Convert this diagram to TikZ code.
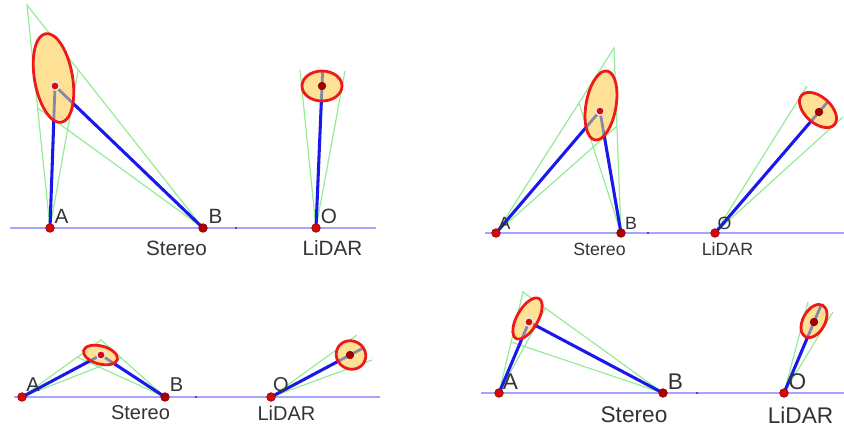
\documentclass[tikz,border=0pt]{standalone}
\usepackage{fontspec}
\setmainfont{Liberation Sans}
\usetikzlibrary{calc}
\definecolor{baseblue}{RGB}{165,165,255}
\definecolor{rayblue}{RGB}{25,25,235}
\definecolor{conegreen}{RGB}{150,235,150}
\definecolor{errfill}{RGB}{255,225,150}
\definecolor{errred}{RGB}{240,25,25}
\definecolor{seggrey}{RGB}{135,135,170}
\definecolor{dotred}{RGB}{215,10,10}
\definecolor{dotdark}{RGB}{150,0,0}

\begin{document}
\begin{tikzpicture}[x=0.75pt,y=-0.75pt,
    base/.style={baseblue,line width=1.2pt},
    cone/.style={conegreen,line width=0.9pt},
    ray/.style={rayblue,line width=2.3pt,line join=round},
    seg/.style={seggrey,line width=2.1pt},
    errarea/.style={fill=errfill},
    errrim/.style={draw=errred,line width=2.1pt},
    cam/.style={fill=dotred,draw=dotdark,line width=0.5pt},
    camb/.style={fill=dotdark!80!red,draw=dotdark,line width=0.5pt},
    tgt/.style={fill=dotred,draw=white!85!gray,line width=1pt},
    ltgt/.style={fill=dotdark!90!red,draw=dotdark,line width=0.5pt},
    lbl/.style={text=black!80,inner sep=0pt}]
\useasboundingbox (0,0) rectangle (844,430);
% cameras and lidar
\coordinate (A1) at (50,228);  \coordinate (B1) at (203,228); \coordinate (O1) at (316,228);
\coordinate (A2) at (496,233); \coordinate (B2) at (621,233); \coordinate (O2) at (715,233);
\coordinate (A3) at (22,397);  \coordinate (B3) at (165,397); \coordinate (O3) at (271,397);
\coordinate (A4) at (499,393); \coordinate (B4) at (663,393); \coordinate (O4) at (784,393);
% targets
\coordinate (T1) at (55,86);   \coordinate (U1) at (322,86);
\coordinate (T2) at (600,111); \coordinate (U2) at (819,112);
\coordinate (T3) at (101,355); \coordinate (U3) at (350,355);
\coordinate (T4) at (529,322); \coordinate (U4) at (814,322);
% ellipse centres
\coordinate (E1) at (53.5,78);    \coordinate (F1) at (322,86);
\coordinate (E2) at (601,105.5);  \coordinate (F2) at (818,110);
\coordinate (E3) at (100.5,355);  \coordinate (F3) at (351,355);
\coordinate (E4) at (527.5,318.5);\coordinate (F4) at (814,321);
% baselines
\coordinate (L1) at (10,228);  \coordinate (R1) at (376,228); \coordinate (K1) at (236,228);
\coordinate (L2) at (485,233); \coordinate (R2) at (844,233); \coordinate (K2) at (648,233);
\coordinate (L3) at (14,397);  \coordinate (R3) at (380,397); \coordinate (K3) at (196,397);
\coordinate (L4) at (481,393); \coordinate (R4) at (844,393); \coordinate (K4) at (697,393);
% stereo cones
\coordinate (P1) at (27,5);    \coordinate (Q1) at ($(B1)!0.709!(P1)$); \coordinate (S1) at ($(A1)!0.538!(P1)$);
\coordinate (P2) at (614,48);  \coordinate (Q2) at ($(B2)!0.578!(P2)$); \coordinate (S2) at ($(A2)!0.703!(P2)$);
\coordinate (P3) at (101,340); \coordinate (Q3) at ($(B3)!0.684!(P3)$); \coordinate (S3) at ($(A3)!0.70!(P3)$);
\coordinate (P4) at (523,292); \coordinate (Q4) at ($(B4)!0.84!(P4)$);  \coordinate (S4) at ($(A4)!0.505!(P4)$);
% lidar cones
\coordinate (M1) at (300,70);  \coordinate (N1) at (345,71);
\coordinate (M2) at (807,86);  \coordinate (N2) at (843,117);
\coordinate (M3) at (357,335); \coordinate (N3) at (372,360);
\coordinate (M4) at (808,302); \coordinate (N4) at (833,312);

\foreach \i in {1,...,4}{
  \coordinate (X\i) at ($(O\i)!2!(U\i)$);
  \draw[base] (L\i) -- (R\i);
  \draw[cone] (A\i) -- (P\i) -- (B\i) (A\i) -- (Q\i) (B\i) -- (S\i) (M\i) -- (O\i) -- (N\i);
  \draw[ray] (A\i) -- (T\i) -- (B\i) (O\i) -- (U\i);
}
\foreach \e/\a/\b/\r/\p/\t/\q in {E1/45/19/100/A1/T1/B1, F1/20/15/0/O1/U1/X1,
    E2/35/15/80/A2/T2/B2, F2/22/13/-42/O2/U2/X2, E3/17.5/9/-15/A3/T3/B3,
    F3/15/14/-30/O3/U3/X3, E4/23/10.5/60/A4/T4/B4, F4/18/11/61/O4/U4/X4}{
  \begin{scope}[shift={(\e)},rotate=\r]
    \fill[errarea] (0,0) ellipse [x radius=\a,y radius=\b];
    \begin{scope}
      \clip (0,0) ellipse [x radius=\a,y radius=\b];
      \draw[seg] (\p) -- (\t) -- (\q);
    \end{scope}
    \draw[errrim] (0,0) ellipse [x radius=\a,y radius=\b];
  \end{scope}
}
\foreach \i in {1,...,4}{
  \filldraw[cam] (A\i) circle (4.3) (O\i) circle (4.3);
  \filldraw[camb] (B\i) circle (4.3);
  \filldraw[tgt] (T\i) circle (4.2);
  \filldraw[ltgt] (U\i) circle (3.8);
  \fill (K\i) circle (0.8);
}

\begin{scope}[every node/.append style={font=\fontsize{15.5}{18}\selectfont}]
\node[lbl] (la1) at (61.5,216) {A};
\node[lbl] (lb1) at (215.5,216) {B};
\node[lbl] (lo1) at (329,216) {O};
\node[lbl] (ls1) at (176.5,248) {Stereo};
\node[lbl] (ll1) at (332.5,248) {LiDAR};
\end{scope}
\begin{scope}[every node/.append style={font=\fontsize{13.3}{16}\selectfont}]
\node[lbl] (la2) at (504.5,223) {A};
\node[lbl] (lb2) at (631,223) {B};
\node[lbl] (lo2) at (724.5,223) {O};
\node[lbl] (ls2) at (599.5,249) {Stereo};
\node[lbl] (ll2) at (727.5,249) {LiDAR};
\end{scope}
\begin{scope}[every node/.append style={font=\fontsize{15}{18}\selectfont}]
\node[lbl] (la3) at (33,385) {A};
\node[lbl] (lb3) at (176.5,385) {B};
\node[lbl] (lo3) at (281,385) {O};
\node[lbl] (ls3) at (140.5,413) {Stereo};
\node[lbl] (ll3) at (286.5,413) {LiDAR};
\end{scope}
\begin{scope}[every node/.append style={font=\fontsize{17}{20}\selectfont}]
\node[lbl] (la4) at (510.5,382) {A};
\node[lbl] (lb4) at (675.5,382) {B};
\node[lbl] (lo4) at (797.5,382) {O};
\node[lbl] (ls4) at (634,415) {Stereo};
\node[lbl] (ll4) at (800.5,415) {LiDAR};
\end{scope}
\end{tikzpicture}
\end{document}
